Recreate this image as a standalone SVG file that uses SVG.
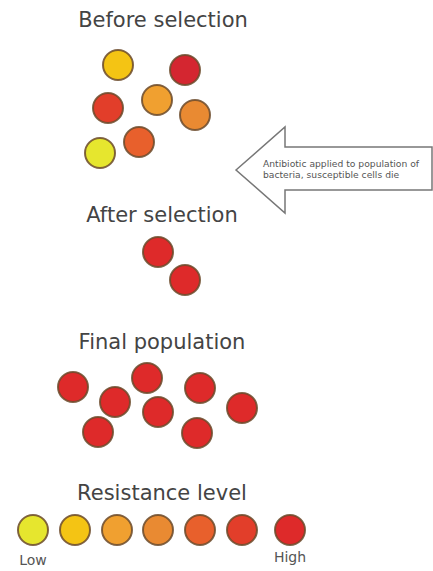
<svg xmlns="http://www.w3.org/2000/svg" width="433" height="571" viewBox="0 0 433 571">
<style>
.t{font-family:"DejaVu Sans","Liberation Sans",sans-serif;font-size:21px;fill:#444;text-anchor:middle}
.s{font-family:"DejaVu Sans","Liberation Sans",sans-serif;font-size:9.2px;fill:#555}
.l{font-family:"DejaVu Sans","Liberation Sans",sans-serif;font-size:14px;fill:#555;text-anchor:middle}
circle{stroke:#6b4a2a;stroke-width:2;stroke-opacity:0.85}
.c1{fill:#e6e62e}.c2{fill:#f4c414}.c3{fill:#f0a030}.c4{fill:#e98a32}.c5{fill:#e8602c}.c6{fill:#e23e2a}.c7{fill:#de2a2a}.c8{fill:#d42630}
</style>
<rect width="433" height="571" fill="#fff"/>
<g id="before">
<text class="t" x="163" y="27">Before selection</text>
<circle class="c2" cx="118" cy="65" r="15"/>
<circle class="c8" cx="185" cy="70" r="15"/>
<circle class="c6" cx="108" cy="108" r="15"/>
<circle class="c3" cx="157" cy="100" r="15"/>
<circle class="c4" cx="195" cy="115" r="15"/>
<circle class="c5" cx="139" cy="142" r="15"/>
<circle class="c1" cx="100" cy="153" r="15"/>
</g>
<g id="arrow">
<path d="M236,170 L285,127 L285,147 L432,147 L432,190 L285,190 L285,213 Z" fill="#fff" stroke="#777" stroke-width="1.5" stroke-linejoin="miter"/>
<text class="s" x="263" y="167">Antibiotic applied to population of</text>
<text class="s" x="263" y="178">bacteria, susceptible cells die</text>
</g>
<g id="after">
<text class="t" x="162" y="222">After selection</text>
<circle class="c7" cx="158" cy="252" r="15"/>
<circle class="c7" cx="185" cy="280" r="15"/>
</g>
<g id="final">
<text class="t" x="162" y="349">Final population</text>
<circle class="c7" cx="73" cy="387" r="15"/>
<circle class="c7" cx="115" cy="402" r="15"/>
<circle class="c7" cx="147" cy="378" r="15"/>
<circle class="c7" cx="200" cy="388" r="15"/>
<circle class="c7" cx="158" cy="412" r="15"/>
<circle class="c7" cx="242" cy="408" r="15"/>
<circle class="c7" cx="98" cy="432" r="15"/>
<circle class="c7" cx="197" cy="433" r="15"/>
</g>
<g id="legend">
<text class="t" x="162" y="500">Resistance level</text>
<circle class="c1" cx="33" cy="530" r="15"/>
<circle class="c2" cx="75" cy="530" r="15"/>
<circle class="c3" cx="117" cy="530" r="15"/>
<circle class="c4" cx="158" cy="530" r="15"/>
<circle class="c5" cx="200" cy="530" r="15"/>
<circle class="c6" cx="242" cy="530" r="15"/>
<circle class="c7" cx="290" cy="530" r="15"/>
<text class="l" x="33" y="565">Low</text>
<text class="l" x="290" y="562">High</text>
</g>
</svg>
